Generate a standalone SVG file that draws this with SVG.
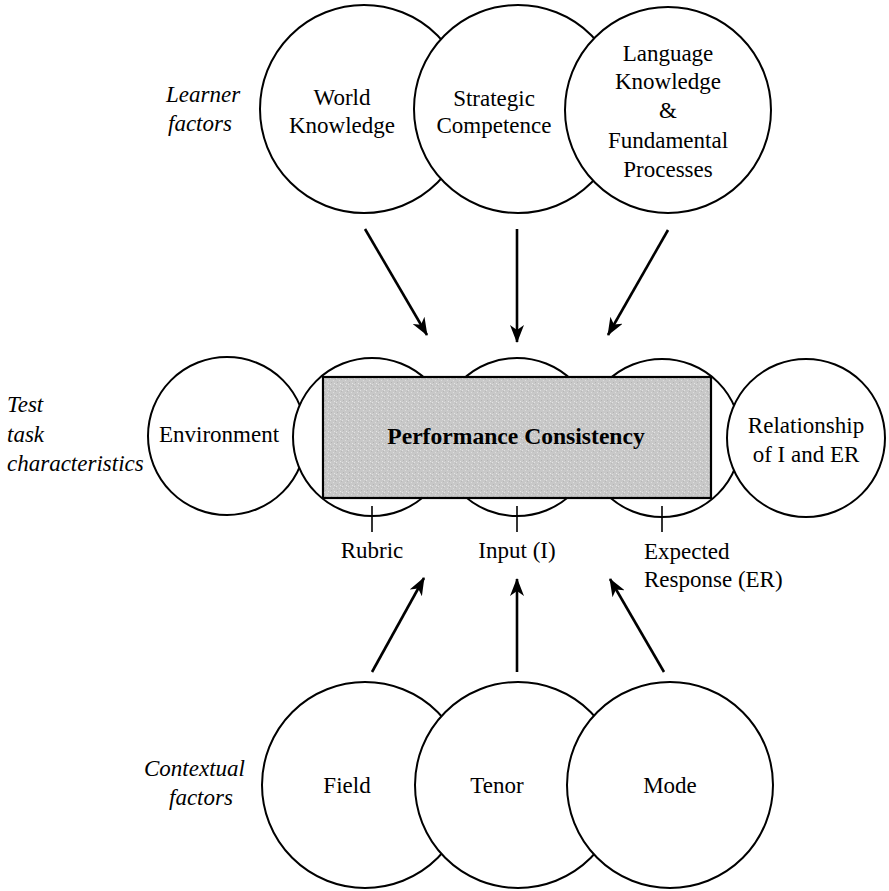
<svg xmlns="http://www.w3.org/2000/svg" width="889" height="891" viewBox="0 0 889 891">
<style>
  .c { fill: #ffffff; stroke: #000000; stroke-width: 2; }
  .t { font-family: "Liberation Serif", "Times New Roman", serif; font-size: 23px; fill: #000000; text-anchor: middle; }
  .lbl { font-family: "Liberation Serif", "Times New Roman", serif; font-size: 23px; font-style: italic; fill: #000000; }
  .arr { stroke: #000000; stroke-width: 2.6; fill: none; marker-end: url(#ah); }
  .tick { stroke: #000000; stroke-width: 1.6; }
</style>
<defs>
  <marker id="ah" markerWidth="18" markerHeight="14" refX="17" refY="7" orient="auto" markerUnits="userSpaceOnUse">
    <path d="M0,0 L18,7 L0,14 L5,7 z" fill="#000000"/>
  </marker>
  <pattern id="grain" width="6" height="6" patternUnits="userSpaceOnUse">
    <rect width="6" height="6" fill="#c8c8c8"/>
    <rect x="0" y="0" width="1" height="1" fill="#e2e2e2"/>
    <rect x="3" y="2" width="1" height="1" fill="#dddddd"/>
    <rect x="1" y="4" width="1" height="1" fill="#b4b4b4"/>
    <rect x="4" y="5" width="1" height="1" fill="#e6e6e6"/>
    <rect x="5" y="1" width="1" height="1" fill="#b8b8b8"/>
  </pattern>
</defs>
<rect width="889" height="891" fill="#ffffff"/>

<!-- Side labels -->
<g id="label-learner">
  <text class="lbl" x="166" y="102">Learner</text>
  <text class="lbl" x="168" y="131">factors</text>
</g>
<g id="label-test">
  <text class="lbl" x="7" y="412">Test</text>
  <text class="lbl" x="7" y="442">task</text>
  <text class="lbl" x="7" y="471">characteristics</text>
</g>
<g id="label-contextual">
  <text class="lbl" x="144" y="776">Contextual</text>
  <text class="lbl" x="169" y="805">factors</text>
</g>

<!-- Top row -->
<g id="world-knowledge">
  <circle class="c" cx="364" cy="109" r="104"/>
  <text class="t" x="342" y="105">World</text>
  <text class="t" x="342" y="133">Knowledge</text>
</g>
<g id="strategic-competence">
  <circle class="c" cx="518" cy="109" r="104"/>
  <text class="t" x="494" y="106">Strategic</text>
  <text class="t" x="494" y="133">Competence</text>
</g>
<g id="language-knowledge">
  <circle class="c" cx="668" cy="110" r="103"/>
  <text class="t" x="668" y="61">Language</text>
  <text class="t" x="668" y="89">Knowledge</text>
  <text class="t" x="668" y="118">&amp;</text>
  <text class="t" x="668" y="148">Fundamental</text>
  <text class="t" x="668" y="177">Processes</text>
</g>

<!-- Middle row -->
<g id="environment">
  <circle class="c" cx="227" cy="436" r="79"/>
  <text class="t" x="219" y="442">Environment</text>
</g>
<g id="rubric">
  <circle class="c" cx="372" cy="437" r="79"/>
  <line class="tick" x1="372" y1="506" x2="372" y2="532"/>
  <text class="t" x="372" y="558">Rubric</text>
</g>
<g id="input">
  <circle class="c" cx="517" cy="437" r="79"/>
  <line class="tick" x1="517" y1="506" x2="517" y2="532"/>
  <text class="t" x="517" y="558">Input (I)</text>
</g>
<g id="expected-response">
  <circle class="c" cx="662" cy="438" r="79"/>
  <line class="tick" x1="662" y1="506" x2="662" y2="532"/>
  <text class="t" x="644" y="559" style="text-anchor:start">Expected</text>
  <text class="t" x="644" y="587" style="text-anchor:start">Response (ER)</text>
</g>
<g id="relationship">
  <circle class="c" cx="806" cy="438" r="79"/>
  <text class="t" x="806" y="433">Relationship</text>
  <text class="t" x="806" y="462">of I and ER</text>
</g>
<g id="performance-consistency">
  <rect x="323" y="377" width="388" height="121" fill="url(#grain)" stroke="#000000" stroke-width="2.2"/>
  <text class="t" x="516" y="444" style="font-weight:bold;font-size:23.6px">Performance Consistency</text>
</g>

<!-- Bottom row -->
<g id="field">
  <circle class="c" cx="365" cy="785" r="103"/>
  <text class="t" x="347" y="793">Field</text>
</g>
<g id="tenor">
  <circle class="c" cx="518" cy="785" r="103"/>
  <text class="t" x="497" y="793">Tenor</text>
</g>
<g id="mode">
  <circle class="c" cx="670" cy="785" r="103"/>
  <text class="t" x="670" y="793">Mode</text>
</g>

<!-- Connectors -->
<g id="connectors">
  <line class="arr" x1="365" y1="229" x2="427" y2="335"/>
  <line class="arr" x1="517" y1="229" x2="517" y2="342"/>
  <line class="arr" x1="668" y1="230" x2="608" y2="335"/>
  <line class="arr" x1="372" y1="672" x2="424" y2="578"/>
  <line class="arr" x1="517" y1="672" x2="517" y2="579"/>
  <line class="arr" x1="664" y1="672" x2="610" y2="579"/>
</g>
</svg>
